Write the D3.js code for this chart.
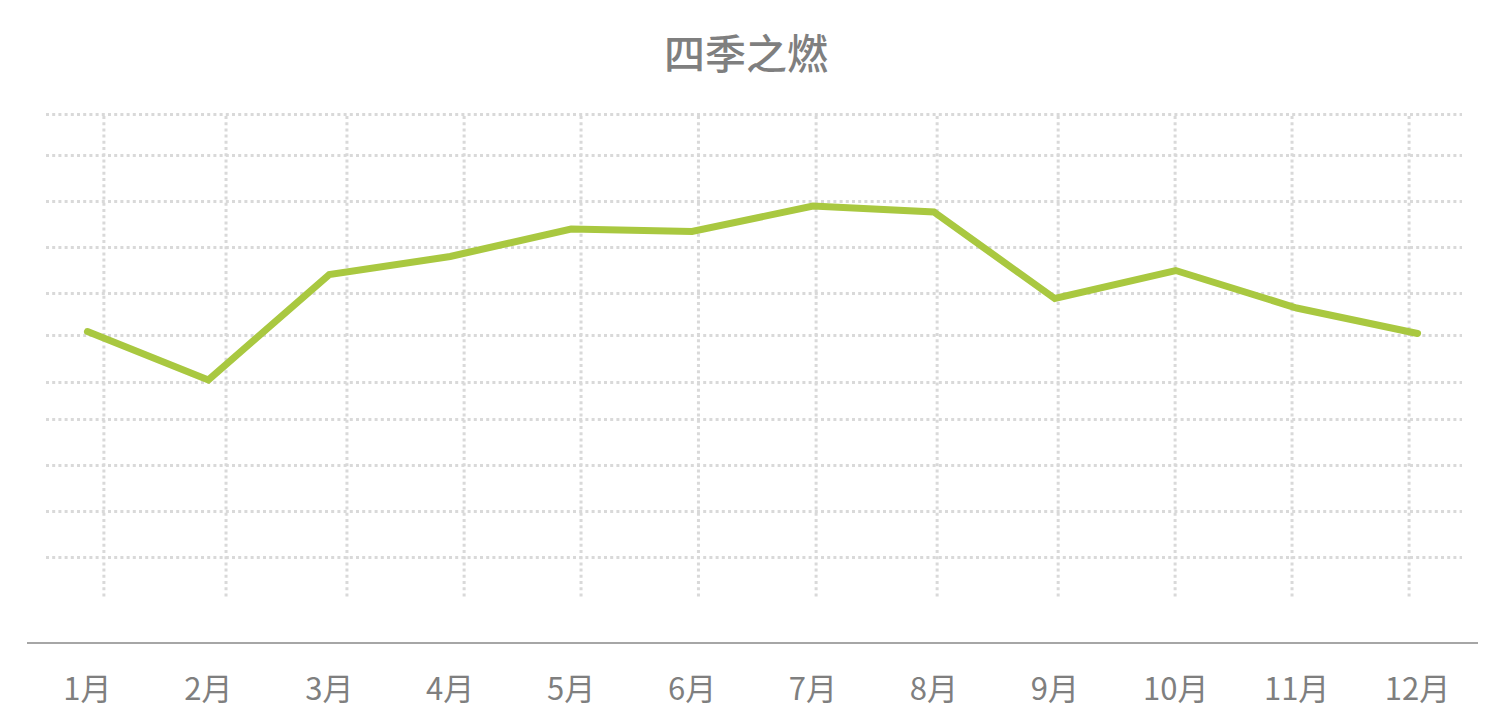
<!DOCTYPE html>
<html>
<head>
<meta charset="utf-8">
<script src="https://cdn.jsdelivr.net/npm/d3@7"></script>
<style>
  html, body { margin: 0; padding: 0; background: #ffffff; }
  svg { display: block; }
</style>
</head>
<body>
<svg id="chart" width="1506" height="722"></svg>
<script>
// ---- data ----
const title = "四季之燃";
const months = ["1月","2月","3月","4月","5月","6月","7月","8月","9月","10月","11月","12月"];
const values = [53.7, 44.0, 65.1, 68.7, 74.2, 73.7, 78.8, 77.6, 60.3, 65.9, 58.4, 53.3];
// background dotted grid (rows in value units, columns in month-index units)
const gridRows = [97.2, 89.0, 79.8, 70.6, 61.4, 53.0, 43.6, 36.2, 27.0, 17.8, 8.6];
const gridCols = [0.136, 1.146, 2.146, 3.115, 4.082, 5.053, 6.026, 7.027, 8.028, 8.995, 9.962, 10.930];

const W = 1506, H = 722;
const svg = d3.select("#chart");

const x = d3.scaleBand().domain(months).range([27, 1478]);
const xi = d3.scaleLinear().domain([0, months.length - 1])
  .range([x(months[0]) + x.bandwidth() / 2, x(months[months.length - 1]) + x.bandwidth() / 2]);
const y = d3.scaleLinear().domain([0, 100]).range([600, 100]);

const gridColor = "#d9d9d9";
const gridLeft = 46, gridRight = 1462, gridTop = 116, gridBottom = 597;

// horizontal dotted grid
svg.append("g").selectAll("line").data(gridRows).join("line")
  .attr("x1", gridLeft).attr("x2", gridRight)
  .attr("y1", d => Math.round(y(d)) + 0.5).attr("y2", d => Math.round(y(d)) + 0.5)
  .attr("stroke", gridColor).attr("stroke-width", 3)
  .attr("stroke-dasharray", "3,3.2");

// vertical dotted grid
svg.append("g").selectAll("line").data(gridCols).join("line")
  .attr("x1", d => xi(d)).attr("x2", d => xi(d))
  .attr("y1", gridTop).attr("y2", gridBottom)
  .attr("stroke", gridColor).attr("stroke-width", 3)
  .attr("stroke-dasharray", "3,3.2");

// x axis
const axis = svg.append("g").attr("transform", "translate(0,643)")
  .call(d3.axisBottom(x).tickSize(0).tickPadding(0));
axis.select(".domain").attr("stroke", "#a6a6a6").attr("stroke-width", 2).attr("d", "M27,0H1478");
axis.selectAll(".tick text")
  .attr("y", 46)
  .attr("dy", "0.35em")
  .attr("fill", "#7f7f7f")
  .style("font-family", "'Noto Sans CJK SC', 'Noto Sans', sans-serif")
  .style("font-size", "31px");

// line
const line = d3.line()
  .x((d, i) => x(months[i]) + x.bandwidth() / 2)
  .y(d => y(d));
svg.append("path").datum(values)
  .attr("d", line)
  .attr("fill", "none")
  .attr("stroke", "#a9c840")
  .attr("stroke-width", 7)
  .attr("stroke-linecap", "round")
  .attr("stroke-linejoin", "miter");

// title
svg.append("text")
  .attr("x", 746).attr("y", 51)
  .attr("text-anchor", "middle")
  .attr("dominant-baseline", "central")
  .attr("fill", "#7f7f7f")
  .style("font-family", "'Noto Sans CJK SC', sans-serif")
  .style("font-weight", "500")
  .style("font-size", "41px")
  .text(title);
</script>
</body>
</html>
